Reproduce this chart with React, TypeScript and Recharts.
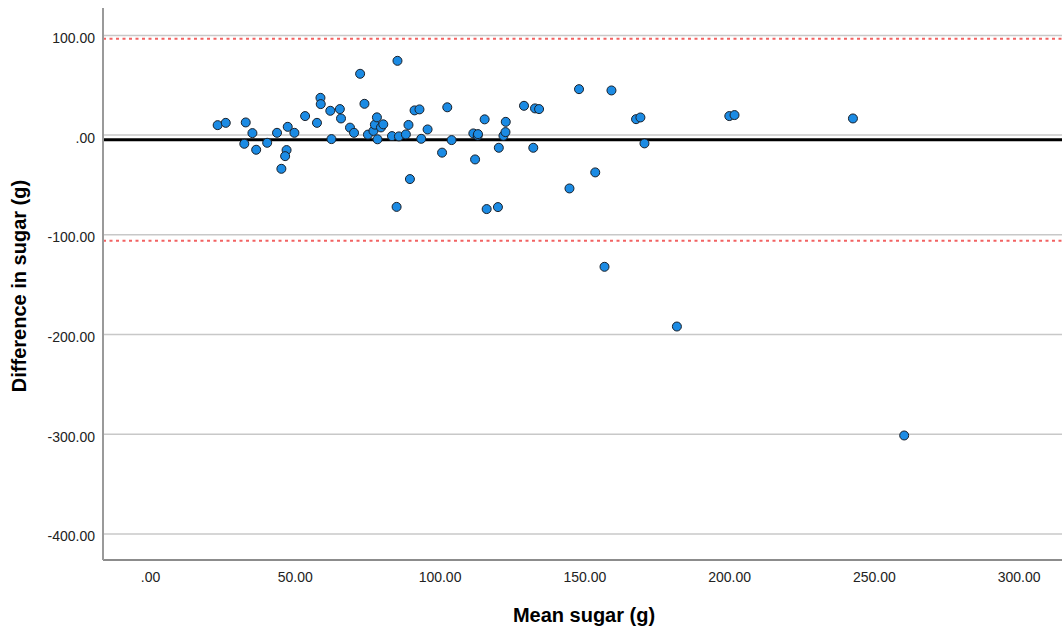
import React from "react";
import {
  ScatterChart,
  Scatter,
  XAxis,
  YAxis,
  ReferenceLine,
  Label,
} from "recharts";

// mean of the two sugar measurements (g)
const meanSugar = [
  23.2, 26.0, 32.9, 35.2, 32.4, 36.5, 40.3, 43.7, 47.4, 49.7, 47.0, 46.5, 45.2,
  53.4, 57.5, 58.7, 58.8, 62.1, 62.5, 65.4, 65.8, 68.9, 70.3, 72.4, 73.9, 75.1,
  77.0, 77.5, 78.2, 78.4, 79.6, 80.4, 83.4, 85.3, 85.0, 85.8, 88.2, 89.1, 89.6,
  91.2, 92.9, 93.5, 95.7, 100.7, 102.5, 104.0, 111.5, 113.0, 113.1, 112.1,
  115.4, 116.1, 120.3, 120.0, 121.9, 122.6, 122.7, 129.0, 132.8, 134.2, 132.2,
  144.7, 148.0, 153.6, 156.8, 159.2, 167.7, 169.2, 170.6, 181.8, 199.9, 201.7,
  242.6, 260.3,
];

// difference between the two measurements (g)
const diffSugar = [
  10.0, 12.3, 12.7, 2.0, -8.7, -14.7, -7.7, 2.3, 8.3, 2.3, -15.0, -21.1, -33.8,
  19.1, 12.3, 37.4, 31.1, 24.4, -4.0, 26.1, 16.7, 7.5, 2.3, 61.5, 31.4, 0.5,
  4.2, 10.5, 17.8, -4.2, 7.7, 10.8, -1.0, 74.5, -72.0, -1.3, 0.7, 10.2, -44.1,
  24.8, 25.8, -3.7, 5.7, -17.6, 27.9, -5.0, 1.7, -0.5, 1.0, -24.4, 15.8, -74.2,
  -12.7, -72.2, -0.7, 3.0, 13.3, 29.4, 26.8, 26.1, -12.7, -53.5, 46.1, -37.4,
  -132.1, 44.8, 16.0, 17.7, -8.3, -192.0, 19.1, 20.1, 16.7, -301.3,
];

const xTicks = [0, 50, 100, 150, 200, 250, 300];
const yTicks = [-400, -300, -200, -100, 0, 100];

// bias and limits of agreement
const meanDiff = -4.6;
const upperLimit = 96.7;
const lowerLimit = -105.9;

const points = meanSugar.map((x, i) => ({ x, y: diffSugar[i] }));

const fmt = (v: number) => (v === 0 ? ".00" : v.toFixed(2));

const FONT = "'Liberation Sans', Arial, sans-serif";

const XTick = (props: any) => (
  <text
    x={props.x}
    y={props.y + 13.7}
    textAnchor="middle"
    fontSize={14}
    fontFamily={FONT}
    fill="#222"
  >
    {fmt(props.payload.value)}
  </text>
);

const YTick = (props: any) => (
  <text
    x={props.x}
    y={props.y + 7.4}
    textAnchor="end"
    fontSize={14}
    fontFamily={FONT}
    fill="#222"
  >
    {fmt(props.payload.value)}
  </text>
);

const Dot = (props: any) => (
  <circle
    cx={props.cx}
    cy={props.cy}
    r={4.5}
    fill="#1b8be4"
    stroke="#1a2029"
    strokeWidth={1}
  />
);

const XTitle = (props: any) => {
  const vb = props.viewBox;
  return (
    <text
      x={vb.x + vb.width / 2 + 1.5}
      y={vb.y + 61.5}
      textAnchor="middle"
      fontSize={20}
      fontWeight="bold"
      fontFamily={FONT}
      fill="#000"
    >
      Mean sugar (g)
    </text>
  );
};

const YTitle = () => (
  <text
    x={26}
    y={286}
    transform="rotate(-90, 26, 286)"
    textAnchor="middle"
    fontSize={20}
    fontWeight="bold"
    fontFamily={FONT}
    fill="#000"
  >
    Difference in sugar (g)
  </text>
);

export default function App() {
  return (
    <div
      style={{
        position: "absolute",
        left: 0,
        top: 0,
        width: 1062,
        height: 632,
        background: "#fff",
      }}
    >
      <ScatterChart
        width={1062}
        height={632}
        margin={{ top: 8, right: 0, bottom: 0, left: 0 }}
      >
        <XAxis
          type="number"
          dataKey="x"
          domain={[-16.4, 314.8]}
          ticks={xTicks}
          allowDataOverflow
          height={72}
          tickLine={false}
          axisLine={{ stroke: "#8c8c8c", strokeWidth: 2 }}
          tick={<XTick />}
        >
          <Label content={<XTitle />} />
        </XAxis>
        <YAxis
          type="number"
          dataKey="y"
          domain={[-426.2, 127.5]}
          ticks={yTicks}
          allowDataOverflow
          width={103}
          tickLine={false}
          axisLine={{ stroke: "#9a9a9a", strokeWidth: 2 }}
          tick={<YTick />}
        >
          <Label content={<YTitle />} />
        </YAxis>
        {yTicks.map((t) => (
          <ReferenceLine key={t} y={t} stroke="#c8c8c8" strokeWidth={1.5} />
        ))}
        <ReferenceLine
          y={upperLimit}
          stroke="#f26262"
          strokeWidth={2}
          strokeDasharray="3 3.5"
        />
        <ReferenceLine
          y={lowerLimit}
          stroke="#f26262"
          strokeWidth={2}
          strokeDasharray="3 3.5"
        />
        <ReferenceLine y={meanDiff} stroke="#000" strokeWidth={3} />
        <Scatter
          data={points}
          shape={<Dot />}
          isAnimationActive={false}
        />
      </ScatterChart>
    </div>
  );
}
